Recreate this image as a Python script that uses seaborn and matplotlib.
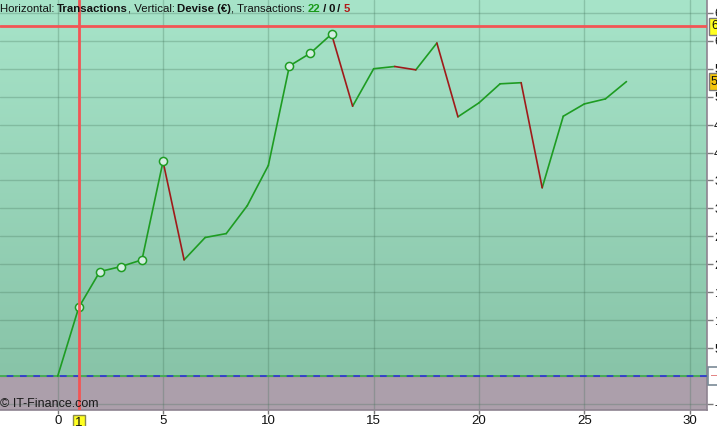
import numpy as np
import pandas as pd
import matplotlib
import matplotlib.pyplot as plt
import seaborn as sns

# -------------------------
# Data
# -------------------------
trades = list(range(28))
equity = [0, 123, 187, 196, 208, 384, 208, 248, 255, 305, 377, 555, 578, 612,
          483, 550, 554, 548, 596, 464, 489, 523, 525, 337, 465, 487, 496, 527]
y_ticks = list(range(-50, 651, 50))
x_ticks = [0, 5, 10, 15, 20, 25, 30]
cursor_trade = 1
cursor_value = 626
counts = [22, 0, 5]

W, H = 717, 426
sns.set_theme(style="white")
plt.rcParams["font.family"] = ["Liberation Sans", "DejaVu Sans"]

fig = plt.figure(figsize=(W / 100, H / 100), dpi=100)
fig.patch.set_facecolor("white")
ax = fig.add_axes([0, 16 / H, 706.5 / W, 410 / H])

xmin, xmax = -2.74, 30.8
ymin, ymax = -60.7, 673

# -------------------------
# Background: gradient above zero, mauve below
# -------------------------
top = np.array([167, 228, 201]) / 255
bot = np.array([136, 196, 168]) / 255
t = np.linspace(0, 1, 200)[:, None]
grad = (top * (1 - t) + bot * t)[:, None, :]
ax.imshow(grad, extent=[xmin, xmax, 0, ymax], aspect="auto", zorder=0)
ax.axhspan(ymin, 0, color="#ac9fab", zorder=0)

# -------------------------
# Equity curve, one segment per trade
# -------------------------
rows = []
for i in range(len(equity) - 1):
    d = "gain" if equity[i + 1] >= equity[i] else "loss"
    rows.append(dict(seg=i, trade=trades[i], value=equity[i], dir=d))
    rows.append(dict(seg=i, trade=trades[i + 1], value=equity[i + 1], dir=d))
seg_df = pd.DataFrame(rows)

sns.lineplot(data=seg_df, x="trade", y="value", units="seg", hue="dir",
             estimator=None, palette={"gain": "#1e9c22", "loss": "#a01a1a"},
             legend=False, linewidth=1.2, ax=ax, zorder=4)

# new equity highs get a circle
peaks = [i for i in range(1, len(equity)) if equity[i] > max(equity[:i])]
sns.scatterplot(x=[trades[i] for i in peaks], y=[equity[i] for i in peaks],
                s=34, color="#d4eee2", edgecolor="#1e9c22", linewidth=1.1,
                ax=ax, zorder=5)

# zero line: blue with green dashes
ax.axhline(0, color="#2630d0", lw=1.2, zorder=3)
ax.axhline(0, color="#4cc040", lw=1.2, ls=(0, (4, 4)), zorder=3)

# cursor crosshair
ax.axvline(cursor_trade, color="#f25555", lw=2, zorder=6)
ax.axhline(cursor_value, color="#f25555", lw=2, zorder=6)

# -------------------------
# Axes styling
# -------------------------
ax.set_xlim(xmin, xmax)
ax.set_ylim(ymin, ymax)
ax.set_xticks(x_ticks)
ax.set_yticks(y_ticks)
ax.set_xticklabels([str(v) for v in x_ticks])
# the zero label sits under the white value box, so leave it blank
ax.set_yticklabels(["" if v == 0 else str(v) for v in y_ticks])
ax.yaxis.tick_right()
ax.tick_params(axis="y", direction="out", length=4, width=1, color="#7a7a7a",
               pad=1.5, labelsize=9, labelcolor="#111111", right=True, left=False)
ax.tick_params(axis="x", direction="out", length=3, width=1, color="#7a7a7a",
               pad=0.5, labelsize=9.5, labelcolor="#111111", bottom=True)
ax.set_xlabel("")
ax.set_ylabel("")
ax.grid(True, color="#3f6e55", alpha=0.28, lw=1)
for g in ax.get_xgridlines() + ax.get_ygridlines():
    g.set_zorder(1)
for s in ["left", "top"]:
    ax.spines[s].set_visible(False)
for s in ["right", "bottom"]:
    ax.spines[s].set_color("#8d8390")
    ax.spines[s].set_linewidth(1.2)

# value boxes on the right axis
box_x = 711 / W
def ybox(v):
    return (16 + (v - ymin) / (ymax - ymin) * 410) / H

fig.text(box_x, ybox(cursor_value), f"{cursor_value}", ha="left", va="center",
         fontsize=9, color="#111111",
         bbox=dict(boxstyle="square,pad=0.2", fc="#ffff20", ec="#7a7a7a", lw=1))
fig.text(box_x, ybox(equity[-1]), f"{equity[-1]}", ha="left", va="center",
         fontsize=9, color="#111111",
         bbox=dict(boxstyle="square,pad=0.2", fc="#f2c40c", ec="#7a7a7a", lw=1))
fig.text(box_x, ybox(0), "–  ", ha="left", va="center", fontsize=9,
         color="#e07070",
         bbox=dict(boxstyle="square,pad=0.25", fc="white", ec="#7a8a96", lw=1.2))

# cursor box on the x axis
ax.text(cursor_trade, -0.018, str(cursor_trade), transform=ax.get_xaxis_transform(),
        ha="center", va="top", fontsize=9.5, color="#111111", clip_on=False,
        bbox=dict(boxstyle="square,pad=0.15", fc="#ffff20", ec="#8a8a50", lw=1))

# -------------------------
# Header line with mixed styles
# -------------------------
parts = [("Horizontal: ", "normal", "#111111"), ("Transactions", "bold", "#111111"),
         (", Vertical: ", "normal", "#111111"), ("Devise (€)", "bold", "#111111"),
         (", Transactions: ", "normal", "#111111"), (str(counts[0]), "bold", "#1a9a1a"),
         (" / ", "bold", "#111111"), (str(counts[1]), "bold", "#111111"),
         (" / ", "bold", "#111111"), (str(counts[2]), "bold", "#b01818")]
renderer = fig.canvas.get_renderer()
xpos = 0
for s, w, c in parts:
    txt = fig.text(xpos / W, 1 - 8.5 / H, s, ha="left", va="center",
                   fontsize=8.2, fontweight=w, color=c)
    bb = txt.get_window_extent(renderer)
    xpos = bb.x1 - 0.5

fig.text(0, 1 - 404 / H, "© IT-Finance.com", ha="left", va="center",
         fontsize=9, color="#1a1a1a")

plt.savefig("out.png", dpi=100)
